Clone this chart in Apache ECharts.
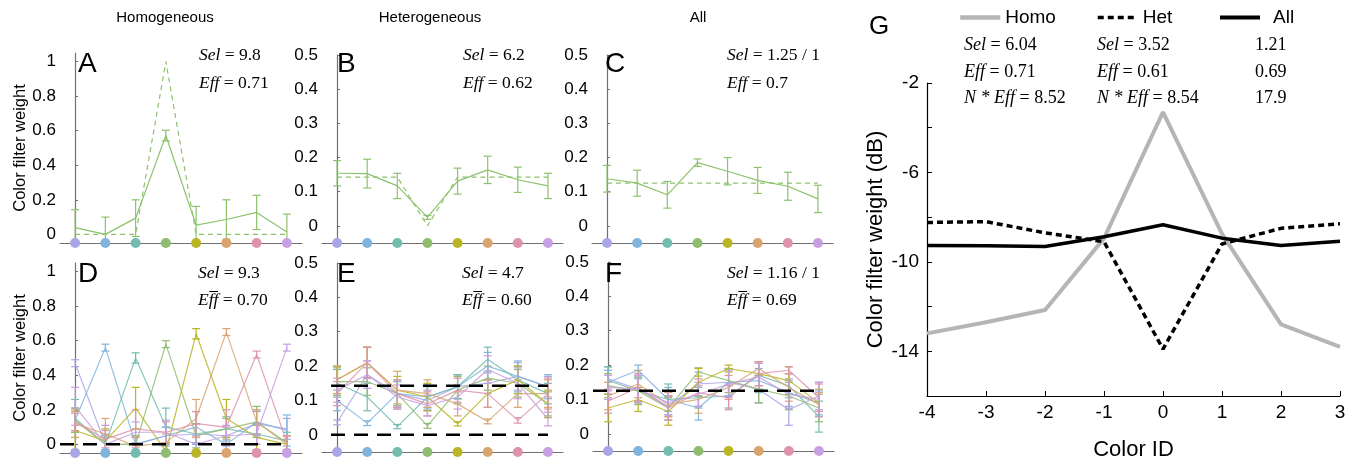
<!DOCTYPE html>
<html><head><meta charset="utf-8">
<script src="https://cdn.jsdelivr.net/npm/echarts@6/dist/echarts.min.js"></script>
<style>html,body{margin:0;padding:0;background:#fff}#c{width:1355px;height:466px}</style>
</head><body><div id="c"></div>
<script>
// ---------- data ----------
const colorIndex = [0, 1, 2, 3, 4, 5, 6, 7];
const dotColors = ['#a9a5e6', '#80b4dd', '#72bdb0', '#8fbc6f', '#b9b524', '#d9a46e', '#de93ac', '#c89fe2'];
const columnTitles = ['Homogeneous', 'Heterogeneous', 'All'];
const ticksA = [0, 0.2, 0.4, 0.6, 0.8, 1];
const ticksB = [0, 0.1, 0.2, 0.3, 0.4, 0.5];

// Panel A (homogeneous, single filter)
const aMean = [0.039, 0.0, 0.094, 0.572, 0.054, 0.086, 0.127, 0.013];
const aErr  = [0.104, 0.10, 0.106, 0.031, 0.108, 0.114, 0.099, 0.104];
const aRef  = [0, 0, 0, 1, 0, 0, 0, 0];
// Panel B (heterogeneous, single filter)
const bMean = [0.154, 0.153, 0.117, 0.025, 0.131, 0.164, 0.135, 0.117];
const bErr  = [0.037, 0.042, 0.037, 0.006, 0.038, 0.040, 0.037, 0.037];
const bRef  = [0.143, 0.143, 0.143, 0, 0.143, 0.143, 0.143, 0.143];
// Panel C (all, single filter)
const cMean = [0.138, 0.125, 0.091, 0.185, 0.160, 0.133, 0.116, 0.079];
const cErr  = [0.039, 0.038, 0.039, 0.011, 0.040, 0.038, 0.041, 0.040];
const cRef  = [0.125, 0.125, 0.125, 0.125, 0.125, 0.125, 0.125, 0.125];

// Panel D (homogeneous, all 8 filters) rows = filter colour
const dMean = [
  [0.47, 0.00, 0.00, 0.05, 0.06, 0.05, 0.12, 0.09],
  [0.14, 0.56, 0.00, 0.05, 0.10, 0.00, 0.13, 0.08],
  [0.15, 0.00, 0.50, 0.10, 0.06, 0.09, 0.06, 0.02],
  [0.14, 0.00, 0.00, 0.58, 0.05, 0.09, 0.13, 0.01],
  [0.08, 0.02, 0.21, -0.04, 0.64, 0.15, 0.04, 0.00],
  [0.12, 0.06, -0.01, 0.01, 0.15, 0.65, 0.13, 0.00],
  [0.13, 0.03, 0.09, 0.07, 0.12, 0.10, 0.52, 0.01],
  [0.22, 0.00, 0.07, 0.07, 0.00, 0.05, 0.06, 0.56]
];
const dErr = [
  [0.02, 0.06, 0.05, 0.05, 0.06, 0.05, 0.07, 0.06],
  [0.07, 0.02, 0.04, 0.05, 0.09, 0.05, 0.07, 0.09],
  [0.11, 0.04, 0.03, 0.11, 0.06, 0.07, 0.06, 0.05],
  [0.07, 0.05, 0.05, 0.02, 0.07, 0.06, 0.09, 0.04],
  [0.11, 0.07, 0.12, 0.05, 0.03, 0.11, 0.07, 0.05],
  [0.08, 0.09, 0.05, 0.05, 0.11, 0.02, 0.07, 0.05],
  [0.05, 0.05, 0.11, 0.06, 0.07, 0.10, 0.02, 0.04],
  [0.11, 0.11, 0.06, 0.07, 0.05, 0.06, 0.06, 0.02]
];
const dRef = [[-0.5, 0], [7, 0]];

// Panel E (heterogeneous, all filters)
const eMean = [
  [0.036, 0.175, 0.12, 0.10, 0.14, 0.15, 0.17, 0.14],
  [0.10, 0.034, 0.12, 0.11, 0.14, 0.20, 0.17, 0.14],
  [0.15, 0.11, 0.024, 0.11, 0.14, 0.22, 0.16, 0.12],
  [0.155, 0.155, 0.12, 0.026, 0.13, 0.165, 0.15, 0.09],
  [0.16, 0.21, 0.13, 0.11, 0.032, 0.12, 0.16, 0.09],
  [0.16, 0.21, 0.13, 0.12, 0.09, 0.039, 0.12, 0.12],
  [0.12, 0.21, 0.12, 0.09, 0.13, 0.12, 0.042, 0.12],
  [0.13, 0.175, 0.11, 0.085, 0.11, 0.19, 0.15, 0.046]
];
const eErr = [
  [0.007, 0.04, 0.035, 0.03, 0.035, 0.03, 0.04, 0.03],
  [0.03, 0.007, 0.035, 0.035, 0.035, 0.04, 0.045, 0.035],
  [0.04, 0.04, 0.006, 0.03, 0.035, 0.035, 0.04, 0.03],
  [0.04, 0.04, 0.04, 0.007, 0.04, 0.035, 0.04, 0.035],
  [0.04, 0.045, 0.04, 0.04, 0.006, 0.04, 0.04, 0.04],
  [0.04, 0.045, 0.055, 0.04, 0.035, 0.007, 0.04, 0.04],
  [0.035, 0.045, 0.04, 0.035, 0.035, 0.04, 0.008, 0.045],
  [0.035, 0.04, 0.035, 0.03, 0.035, 0.04, 0.045, 0.02]
];
const eRefHigh = [[-0.2, 0.143], [7, 0.143]];
const eRefLow = [[-0.2, 0], [7, 0]];

// Panel F (all, all filters)
const fMean = [
  [0.16, 0.13, 0.08, 0.145, 0.15, 0.13, 0.07, 0.11],
  [0.15, 0.185, 0.10, 0.075, 0.15, 0.155, 0.12, 0.09],
  [0.155, 0.125, 0.10, 0.105, 0.11, 0.17, 0.14, 0.05],
  [0.14, 0.125, 0.075, 0.18, 0.155, 0.13, 0.11, 0.075],
  [0.075, 0.10, 0.065, 0.15, 0.19, 0.175, 0.155, 0.09],
  [0.11, 0.145, 0.085, 0.10, 0.135, 0.19, 0.135, 0.085],
  [0.095, 0.135, 0.075, 0.12, 0.105, 0.175, 0.185, 0.105],
  [0.135, 0.13, 0.09, 0.115, 0.145, 0.165, 0.115, 0.10]
];
const fErr = [
  [0.035, 0.035, 0.03, 0.035, 0.04, 0.04, 0.045, 0.04],
  [0.035, 0.015, 0.035, 0.035, 0.04, 0.035, 0.04, 0.035],
  [0.04, 0.035, 0.045, 0.03, 0.035, 0.04, 0.035, 0.045],
  [0.035, 0.04, 0.035, 0.012, 0.035, 0.04, 0.04, 0.04],
  [0.04, 0.035, 0.04, 0.04, 0.01, 0.035, 0.04, 0.04],
  [0.04, 0.04, 0.035, 0.04, 0.035, 0.02, 0.04, 0.035],
  [0.035, 0.04, 0.035, 0.04, 0.035, 0.035, 0.01, 0.04],
  [0.035, 0.04, 0.035, 0.035, 0.04, 0.04, 0.04, 0.05]
];
const fRef = [[-0.5, 0.125], [7, 0.125]];

// Panel G (dB)
const gColorIds = [-4, -3, -2, -1, 0, 1, 2, 3];
const homoDb = [-13.2, -12.7, -12.15, -8.95, -3.3, -8.75, -12.8, -13.8];
const hetDb  = [-8.24, -8.2, -8.7, -9.1, -13.9, -9.2, -8.5, -8.3];
const allDb  = [-9.27, -9.28, -9.31, -8.88, -8.34, -8.94, -9.27, -9.08];

// ---------- build ----------
const SANS = 'Liberation Sans, Arial, sans-serif';
const SERIF = 'Liberation Serif, Times New Roman, serif';
const GREEN = '#8cc26c';
const AXIS_GREY = '#707070';

const panels = [
  {grid: {left: 60, top: 53, width: 242, height: 190}, ymin: -0.05, ymax: 1.05, ticks: ticksA, name: 'Color filter weight'},
  {grid: {left: 322, top: 55, width: 241, height: 188}, ymin: -0.05, ymax: 0.5, ticks: ticksB},
  {grid: {left: 592, top: 55, width: 241, height: 188}, ymin: -0.05, ymax: 0.5, ticks: ticksB},
  {grid: {left: 60, top: 263, width: 242, height: 190}, ymin: -0.05, ymax: 1.05, ticks: ticksA, name: 'Color filter weight'},
  {grid: {left: 322, top: 263, width: 241, height: 189}, ymin: -0.05, ymax: 0.5, ticks: ticksB},
  {grid: {left: 593, top: 262, width: 241, height: 189}, ymin: -0.05, ymax: 0.5, ticks: ticksB}
];

const option = {animation: false, backgroundColor: '#fff', grid: [], xAxis: [], yAxis: [], series: [], graphic: [], legend: []};

panels.forEach((p, k) => {
  option.grid.push(Object.assign({containLabel: false}, p.grid));
  option.xAxis.push({
    type: 'value', gridIndex: k, min: -0.5, max: 7.5,
    axisLine: {show: true, onZero: false, lineStyle: {color: AXIS_GREY, width: 1.2}},
    axisTick: {show: false}, axisLabel: {show: false}, splitLine: {show: false}
  });
  option.yAxis.push({
    type: 'value', gridIndex: k, min: p.ymin, max: p.ymax,
    name: p.name || '', nameLocation: 'middle', nameGap: 28,
    nameTextStyle: {fontSize: 16.5, color: '#000', fontFamily: SANS},
    axisLine: {show: true, lineStyle: {color: AXIS_GREY, width: 1.2}},
    axisTick: {show: true, inside: true, length: 3, customValues: p.ticks, lineStyle: {color: AXIS_GREY}},
    axisLabel: {show: true, customValues: p.ticks, fontSize: 17, color: '#000', fontFamily: SANS, margin: 4,
      formatter: v => String(Math.round(v * 10) / 10)},
    splitLine: {show: false}
  });
});

function errRender(axisMin, lw) {
  return function (params, api) {
    const x = api.value(0), y = api.value(1), e = api.value(2);
    const lo = Math.max(y - e, axisMin), hi = y + e;
    const pHi = api.coord([x, hi]), pLo = api.coord([x, lo]);
    const w = 4;
    const style = {stroke: api.visual('color'), lineWidth: lw, opacity: api.visual('opacity')};
    const ch = [
      {type: 'line', shape: {x1: pLo[0], y1: pLo[1], x2: pHi[0], y2: pHi[1]}, style},
      {type: 'line', shape: {x1: pHi[0] - w, y1: pHi[1], x2: pHi[0] + w, y2: pHi[1]}, style}
    ];
    if (y - e >= axisMin) ch.push({type: 'line', shape: {x1: pLo[0] - w, y1: pLo[1], x2: pLo[0] + w, y2: pLo[1]}, style});
    return {type: 'group', children: ch};
  };
}

function addFilter(k, mean, err, color, opacity, ref) {
  option.series.push({
    type: 'line', xAxisIndex: k, yAxisIndex: k, symbol: 'none', silent: true, z: 2,
    data: colorIndex.map((i, j) => [i, mean[j]]),
    lineStyle: {color, width: 1.2, opacity}, itemStyle: {color}
  });
  option.series.push({
    type: 'custom', xAxisIndex: k, yAxisIndex: k, silent: true, z: 2,
    renderItem: errRender(panels[k].ymin, 1.2),
    itemStyle: {color, opacity},
    data: colorIndex.map((i, j) => [i, mean[j], err[j]])
  });
  if (ref) {
    option.series.push({
      type: 'line', xAxisIndex: k, yAxisIndex: k, symbol: 'none', silent: true, z: 2,
      data: colorIndex.map((i, j) => [i, ref[j]]),
      lineStyle: {color, width: 1.2, type: [5, 4]}
    });
  }
}

addFilter(0, aMean, aErr, GREEN, 1, aRef);
addFilter(1, bMean, bErr, GREEN, 1, bRef);
addFilter(2, cMean, cErr, GREEN, 1, cRef);
[[3, dMean, dErr], [4, eMean, eErr], [5, fMean, fErr]].forEach(([k, M, E]) => {
  M.forEach((row, c) => addFilter(k, row, E[c], dotColors[c], 0.85, null));
});

function blackDash(k, data) {
  option.series.push({
    type: 'line', xAxisIndex: k, yAxisIndex: k, symbol: 'none', silent: true, z: 5,
    data, lineStyle: {color: '#000', width: 2.5, type: [14, 9]}
  });
}
blackDash(3, dRef);
blackDash(4, eRefHigh);
blackDash(4, eRefLow);
blackDash(5, fRef);

// colour dots on each x axis
panels.forEach((p, k) => {
  option.series.push({
    type: 'scatter', xAxisIndex: k, yAxisIndex: k, silent: true, clip: false, z: 6,
    symbolSize: 10,
    data: colorIndex.map(i => ({value: [i, p.ymin], itemStyle: {color: dotColors[i], opacity: 1}}))
  });
});

// ---------- panel G ----------
option.grid.push({left: 927, top: 83, width: 413, height: 325});
option.xAxis.push({
  type: 'value', gridIndex: 6, min: -4, max: 3, interval: 1,
  name: 'Color ID', nameLocation: 'middle', nameGap: 43,
  nameTextStyle: {fontSize: 22, color: '#000', fontFamily: SANS},
  axisLine: {show: true, onZero: false, lineStyle: {color: '#000', width: 1.2}},
  axisTick: {show: true, inside: true, length: 5, lineStyle: {color: '#000'}},
  axisLabel: {fontSize: 19, color: '#000', fontFamily: SANS, margin: 7},
  splitLine: {show: false}
});
option.yAxis.push({
  type: 'value', gridIndex: 6, min: -16, max: -2, interval: 2,
  name: 'Color filter weight (dB)', nameLocation: 'middle', nameGap: 40,
  nameTextStyle: {fontSize: 22, color: '#000', fontFamily: SANS},
  axisLine: {show: true, onZero: false, lineStyle: {color: '#000', width: 1.2}},
  axisTick: {show: true, inside: true, length: 5, lineStyle: {color: '#000'}},
  axisLabel: {fontSize: 19, color: '#000', fontFamily: SANS, margin: 8,
    formatter: v => ((v + 2) % 4 === 0 && v > -16) ? String(v) : ''},
  splitLine: {show: false}
});
option.series.push(
  {name: 'Homo', type: 'line', xAxisIndex: 6, yAxisIndex: 6, symbol: 'none', z: 3,
   data: gColorIds.map((x, j) => [x, homoDb[j]]), lineStyle: {color: '#b5b5b5', width: 4}, itemStyle: {color: '#b5b5b5'}},
  {name: 'Het', type: 'line', xAxisIndex: 6, yAxisIndex: 6, symbol: 'none', z: 4,
   data: gColorIds.map((x, j) => [x, hetDb[j]]), lineStyle: {color: '#000', width: 3.5, type: [6, 4]}, itemStyle: {color: '#000'}},
  {name: 'All', type: 'line', xAxisIndex: 6, yAxisIndex: 6, symbol: 'none', z: 4,
   data: gColorIds.map((x, j) => [x, allDb[j]]), lineStyle: {color: '#000', width: 3.5}, itemStyle: {color: '#000'}}
);
const legBase = {top: 3, itemWidth: 40, itemHeight: 14, selectedMode: false,
  itemStyle: {opacity: 0},
  textStyle: {fontSize: 19, color: '#000', fontFamily: SANS}};
option.legend.push(Object.assign({}, legBase, {left: 953, data: ['Homo'], lineStyle: {width: 4.5, opacity: 1}}));
option.legend.push(Object.assign({}, legBase, {left: 1091, data: ['Het'], lineStyle: {width: 3.5, opacity: 1}}));
option.legend.push(Object.assign({}, legBase, {left: 1213, data: ['All'], lineStyle: {width: 4, opacity: 1},
  textStyle: Object.assign({}, legBase.textStyle, {padding: [0, 0, 0, 8]})}));

// ---------- text ----------
function txt(x, y, text, size, extra) {
  option.graphic.push({type: 'text', silent: true, z: 10, style: Object.assign({
    x, y, text, fontSize: size, fontFamily: SANS, fill: '#000', verticalAlign: 'middle', align: 'left'}, extra || {})});
}
const titleX = [165, 430, 698];
columnTitles.forEach((t, i) => txt(titleX[i], 18, t, 15, {align: 'center'}));
[['A', 78, 64], ['B', 337, 64], ['C', 605, 64], ['D', 78, 274], ['E', 337, 274], ['F', 605, 274]]
  .forEach(([t, x, y]) => txt(x, y, t, 28));
txt(869, 27, 'G', 26);

const richSerif = {i: {fontStyle: 'italic', fontFamily: SERIF, fontSize: 17.5, fill: '#000'},
  n: {fontFamily: SERIF, fontSize: 17.5, fill: '#000'}};
function stat(x, y, label, value, size) {
  const r = {i: Object.assign({}, richSerif.i, {fontSize: size}), n: Object.assign({}, richSerif.n, {fontSize: size})};
  txt(x, y, (label ? '{i|' + label + '}{n| = ' : '{n|') + value + '}', size, {rich: r, fontFamily: SERIF});
}
const statsTop = [
  [199, 55, 'Sel', '9.8'], [199, 83, 'Eff', '0.71'],
  [463, 55, 'Sel', '6.2'], [463, 83, 'Eff', '0.62'],
  [727, 55, 'Sel', '1.25 / 1'], [727, 83, 'Eff', '0.7'],
  [198, 273, 'Sel', '9.3'], [198, 300, 'Ef\u0305f', '0.70'],
  [462, 273, 'Sel', '4.7'], [462, 300, 'Ef\u0305f', '0.60'],
  [727, 273, 'Sel', '1.16 / 1'], [727, 300, 'Ef\u0305f', '0.69']
];
statsTop.forEach(s => stat(s[0], s[1], s[2], s[3], 17.5));
const statsG = [
  [964, 45, 'Sel', '6.04'], [964, 72, 'Eff', '0.71'], [964, 98, 'N * Eff', '8.52'],
  [1097, 45, 'Sel', '3.52'], [1097, 72, 'Eff', '0.61'], [1097, 98, 'N * Eff', '8.54'],
  [1255, 45, '', '1.21'], [1255, 72, '', '0.69'], [1255, 98, '', '17.9']
];
statsG.forEach(s => stat(s[0], s[1], s[2], s[3], 18));

const chart = echarts.init(document.getElementById('c'));
chart.setOption(option);
</script>
</body></html>
